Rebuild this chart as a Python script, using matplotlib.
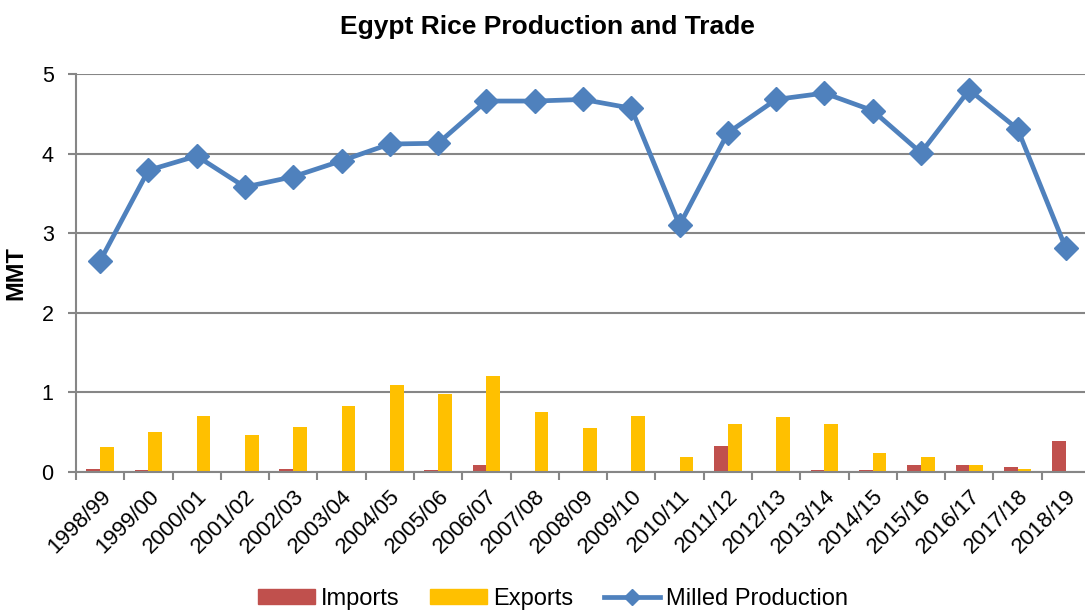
import numpy as np
import matplotlib
matplotlib.use("Agg")
import matplotlib.pyplot as plt
from matplotlib.lines import Line2D
from matplotlib.patches import Patch

plt.rcParams['font.family'] = ['Liberation Sans', 'DejaVu Sans']

years = ["1998/99", "1999/00", "2000/01", "2001/02", "2002/03", "2003/04", "2004/05",
         "2005/06", "2006/07", "2007/08", "2008/09", "2009/10", "2010/11", "2011/12",
         "2012/13", "2013/14", "2014/15", "2015/16", "2016/17", "2017/18", "2018/19"]
imports = [0.04, 0.03, 0.005, 0.0, 0.04, 0.0, 0.0, 0.02, 0.09, 0.015, 0.015,
           0.005, 0.015, 0.33, 0.005, 0.025, 0.025, 0.09, 0.09, 0.065, 0.39]
exports = [0.31, 0.50, 0.70, 0.46, 0.57, 0.83, 1.09, 0.98, 1.21, 0.75, 0.55,
           0.70, 0.19, 0.60, 0.69, 0.60, 0.24, 0.19, 0.09, 0.04, 0.01]
milled = [2.65, 3.79, 3.97, 3.58, 3.71, 3.91, 4.12, 4.13, 4.66, 4.66, 4.68,
          4.57, 3.10, 4.26, 4.68, 4.76, 4.54, 4.01, 4.80, 4.31, 2.81]

red = "#C0504D"
yellow = "#FFC000"
blue = "#4F81BD"
gray = "#868686"

fig = plt.figure(figsize=(10.85, 6.15), dpi=100)
ax = fig.add_axes([0.070, 0.2325, 0.9346, 0.6472])

x = np.arange(len(years))
w = 0.285
ax.bar(x - w / 2, imports, w, color=red, zorder=2)
ax.bar(x + w / 2, exports, w, color=yellow, zorder=2)
ax.plot(x, milled, color=blue, lw=3.4, marker="D", markersize=12, zorder=3)

ax.set_xlim(-0.5, len(years) - 0.5)
ax.set_ylim(0, 5)
ax.set_yticks(range(6))
ax.yaxis.grid(True, color=gray, lw=1.5, zorder=0)
ax.set_axisbelow(True)

ax.set_xticks(x)
ax.set_xticklabels(years, rotation=45, ha="right", va="top", rotation_mode="anchor", fontsize=16)
ax.tick_params(axis="x", which="major", length=0, pad=10)
ax.set_xticks(np.arange(len(years) + 1) - 0.5, minor=True)
ax.tick_params(axis="x", which="minor", length=6, width=1.5, color=gray)
ax.tick_params(axis="y", labelsize=15.5, length=6, width=1.5, color=gray, pad=10)

for s in ["top", "right"]:
    ax.spines[s].set_visible(False)
for s in ["left", "bottom"]:
    ax.spines[s].set_color(gray)
    ax.spines[s].set_linewidth(1.5)

ax.set_ylabel("MMT", fontsize=17, fontweight="bold", labelpad=10)
fig.text(0.505, 1 - 27 / 615, "Egypt Rice Production and Trade", ha="center", va="center",
         fontsize=19, fontweight="bold")

handles = [Patch(color=red), Patch(color=yellow),
           Line2D([], [], color=blue, lw=3.4, marker="D", markersize=8)]
fig.legend(handles, ["Imports", "Exports", "Milled Production"], loc="lower center",
           bbox_to_anchor=(0.51, 0.0), borderaxespad=0.1, borderpad=0.1, ncol=3,
           frameon=False, fontsize=17, handlelength=2.4, handleheight=0.6,
           handletextpad=0.25, columnspacing=1.3)

plt.savefig("out.png", dpi=100)
